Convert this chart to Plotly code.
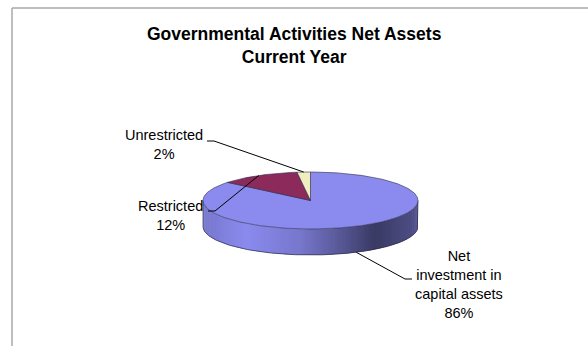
import numpy as np
import plotly.graph_objects as go

# Net asset composition, current year
categories = ["Net investment in capital assets", "Restricted", "Unrestricted"]
shares = [86, 12, 2]
label_text = ["Net<br>investment in<br>capital assets", "Restricted", "Unrestricted"]

# Styling / geometry of the tilted pie (pixel-like axis units)
CX, CY = 310.5, 200.5      # centre of top face
RX, RY = 107.5, 28.5       # ellipse radii
DEPTH = 26                 # thickness of the disc
top_colors = ["#8b8bef", "#8c2a5c", "#f0eebe"]
edge_color = "rgba(40,40,70,0.85)"
FONT = "Liberation Sans, Arial, sans-serif"

# label block centres and leader elbows (text end, elbow)
label_pos = [(459, 284), (170, 215), (164, 144.5)]
leader_start = [((412, 279), (405, 279)), ((208, 211), (215, 211)), ((207, 141), (214, 141))]

# side shading stops: (position across width, brightness factor)
shade_stops = [(0.0, 0.86), (0.2, 1.0), (0.45, 0.86), (0.65, 0.62), (0.8, 0.42), (1.0, 0.58)]


def rim(t, dy=0.0):
    """Point on the rim at fraction t of a turn, clockwise from 12 o'clock."""
    a = 2 * np.pi * np.asarray(t)
    return CX + RX * np.sin(a), CY - RY * np.cos(a) + dy


def hex_rgb(h):
    h = h.lstrip("#")
    return tuple(int(h[i:i + 2], 16) for i in (0, 2, 4))


def shade(hexcol, x):
    u = (x - (CX - RX)) / (2 * RX)
    ps = [s[0] for s in shade_stops]
    fs = [s[1] for s in shade_stops]
    f = float(np.interp(u, ps, fs))
    r, g, b = hex_rgb(hexcol)
    return f"rgb({int(r * f)},{int(g * f)},{int(b * f)})"


fracs = np.array(shares, dtype=float) / sum(shares)
starts = np.concatenate([[0.0], np.cumsum(fracs)[:-1]])
ends = starts + fracs

fig = go.Figure()

# --- side wall (front half of the disc, t in [0.25, 0.75]) ---
for i in range(len(shares)):
    lo, hi = max(starts[i], 0.25), min(ends[i], 0.75)
    if hi <= lo:
        continue
    n = max(2, int((hi - lo) * 300))
    ts = np.linspace(lo, hi, n + 1)
    step = ts[1] - ts[0]
    for k in range(n):
        # each strip overlaps the next one a little so no seams show
        t0, t1 = ts[k], min(ts[k + 1] + 0.8 * step, hi)
        tt = np.linspace(t0, t1, 4)
        xa, ya = rim(tt)
        xb, yb = rim(tt[::-1], DEPTH)
        col = shade(top_colors[i], float(rim([0.5 * (ts[k] + ts[k + 1])])[0][0]))
        fig.add_trace(go.Scatter(
            x=list(xa) + list(xb) + [xa[0]], y=list(ya) + list(yb) + [ya[0]],
            mode="lines", fill="toself", fillcolor=col,
            line=dict(width=0), hoverinfo="skip"))

# outline of the side wall
ts = np.linspace(0.25, 0.75, 200)
bx, by = rim(ts, DEPTH)
lx, ly = rim([0.75])
rx_, ry_ = rim([0.25])
fig.add_trace(go.Scatter(
    x=[rx_[0]] + list(bx) + [lx[0]], y=[ry_[0]] + list(by) + [ly[0]],
    mode="lines", line=dict(color=edge_color, width=0.8), hoverinfo="skip"))

# --- top face slices ---
for i, cat in enumerate(categories):
    ts = np.linspace(starts[i], ends[i], max(3, int(fracs[i] * 400)))
    px, py = rim(ts)
    fig.add_trace(go.Scatter(
        x=[CX] + list(px) + [CX], y=[CY] + list(py) + [CY],
        mode="lines", fill="toself", fillcolor=top_colors[i],
        line=dict(color=edge_color, width=0.7), name=cat,
        hovertemplate=f"{cat}: {shares[i]}%<extra></extra>"))

# --- leader lines and data labels ---
for i in range(len(shares)):
    mid = 0.5 * (starts[i] + ends[i])
    front = 0.25 < mid < 0.75
    mx, my = rim([mid], DEPTH if front else 0.0)
    (sx, sy), (ex, ey) = leader_start[i]
    fig.add_trace(go.Scatter(
        x=[sx, ex, mx[0]], y=[sy, ey, my[0]], mode="lines",
        line=dict(color="black", width=1), hoverinfo="skip"))
    fig.add_annotation(
        x=label_pos[i][0], y=label_pos[i][1], xref="x", yref="y",
        text=f"{label_text[i]}<br>{shares[i]}%", showarrow=False,
        align="center", xanchor="center", yanchor="middle",
        font=dict(family=FONT, size=14.5, color="black"))

# title
fig.add_annotation(
    x=294, y=45.5, xref="x", yref="y", showarrow=False,
    text="<b>Governmental Activities Net Assets<br>Current Year</b>",
    align="center", xanchor="center", yanchor="middle",
    font=dict(family=FONT, size=17.5, color="black"))

# chart frame
frame = dict(color="#a8a8a8", width=1.5)
fig.add_shape(type="line", xref="x", yref="y", x0=12, y0=8, x1=588, y1=8, line=frame)
fig.add_shape(type="line", xref="x", yref="y", x0=12, y0=8, x1=12, y1=346, line=frame)

fig.update_layout(
    width=588, height=346, margin=dict(l=0, r=0, t=0, b=0),
    paper_bgcolor="white", plot_bgcolor="white", showlegend=False,
    xaxis=dict(range=[0, 588], visible=False, fixedrange=True),
    yaxis=dict(range=[346, 0], visible=False, fixedrange=True),
)

fig.write_html("out.html")
